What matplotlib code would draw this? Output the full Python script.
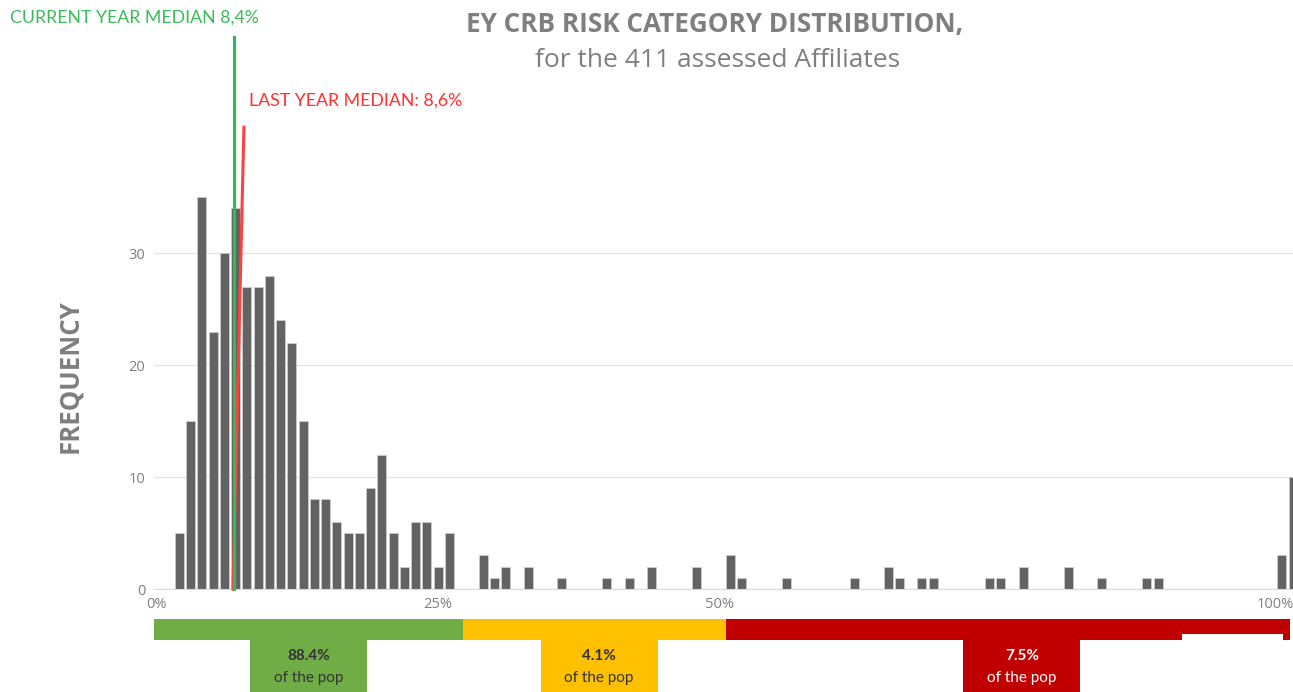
import matplotlib.pyplot as plt
from matplotlib.patches import Rectangle
from matplotlib.transforms import blended_transform_factory, ScaledTranslation

# histogram bins (percent score) and affiliate counts
bin_pct = [2, 3, 4, 5, 6, 7, 8, 9, 10, 11, 12, 13, 14, 15, 16, 17, 18, 19, 20,
           21, 22, 23, 24, 25, 26, 29, 30, 31, 33, 36, 40, 42, 44, 48, 51, 52,
           56, 62, 65, 66, 68, 69, 74, 75, 77, 81, 84, 88, 89, 100, 101]
counts = [5, 15, 35, 23, 30, 34, 27, 27, 28, 24, 22, 15, 8, 8, 6, 5, 5, 9, 12,
          5, 2, 6, 6, 2, 5, 3, 1, 2, 2, 1, 1, 1, 2, 2, 3, 1,
          1, 1, 2, 1, 1, 1, 1, 1, 2, 2, 1, 1, 1, 3, 10]

# median markers as drawn on the chart (x in bin units, y in counts)
current_median_x = [6.85, 6.85]
current_median_y = [0, 49.3]
last_median_x = [6.76, 7.73]
last_median_y = [0, 41.25]

# risk category bands
band_edges = [-0.3, 27.2, 50.6, 100.7]
band_colors = ["#70ad47", "#ffc000", "#c00000"]
band_share = ["88.4%", "4.1%", "7.5%"]
band_label_x = [13.5, 39.3, 76.9]
band_text_colors = ["#333333", "#333333", "#ffffff"]

x_ticks = [0, 25, 50, 100]
x_tick_labels = ["0%", "25%", "50%", "100%"]
y_ticks = [0, 10, 20, 30]

GRAY = "#7f7f7f"

fig = plt.figure(figsize=(12.93, 6.92), dpi=100)
ax = fig.add_axes([0.1188, 0.1488, 1 - 0.1188, 0.631])

ax.bar(bin_pct, counts, width=0.8, color="#636363", edgecolor="#d0d0d0",
       linewidth=0.5, zorder=2)

ax.plot(current_median_x, current_median_y, color="#35b955", lw=2.2,
        clip_on=False, zorder=4)
ax.plot(last_median_x, last_median_y, color="#ff4040", lw=2.2,
        clip_on=False, zorder=3)

ax.set_xlim(-0.3, 101.0)
ax.set_ylim(0, 39)
ax.set_xticks(x_ticks)
ax.set_xticklabels(x_tick_labels)
ax.set_yticks(y_ticks)
ax.tick_params(length=0, labelsize=10.5, labelcolor=GRAY, pad=6)
for lbl in ax.get_xticklabels() + ax.get_yticklabels():
    lbl.set_fontfamily("Open Sans")
# keep the 100% label inside the picture
last_lbl = ax.get_xticklabels()[-1]
last_lbl.set_transform(last_lbl.get_transform()
                       + ScaledTranslation(-6 / 100, 0, fig.dpi_scale_trans))
ax.grid(axis="y", color="#e6e6e6", lw=1, zorder=0)
for s in ["top", "right", "left"]:
    ax.spines[s].set_visible(False)
ax.spines["bottom"].set_color("#d9d9d9")

# titles
fig.text(0.553, 0.965, "EY CRB RISK CATEGORY DISTRIBUTION,", ha="center",
         va="center", fontsize=18.8, fontweight="bold", color=GRAY,
         family="Open Sans")
fig.text(0.555, 0.912, "for the 411 assessed Affiliates", ha="center",
         va="center", fontsize=19, color=GRAY, family="Open Sans")
fig.text(0.054, 0.457, "FREQUENCY", rotation=90, ha="center", va="center",
         fontsize=18.5, fontweight="bold", color=GRAY, family="Open Sans")

fig.text(10 / 1293, 0.975, "CURRENT YEAR MEDIAN 8,4%", ha="left",
         va="center", fontsize=12.8, color="#3cba5c", family="Lato")
fig.text(249 / 1293, 0.855, "LAST YEAR MEDIAN: 8,6%", ha="left",
         va="center", fontsize=12.8, color="#ff3030", family="Lato")

# category bands below the axis
trans = blended_transform_factory(ax.transData, fig.transFigure)
band_top, band_bottom = 1 - 619 / 692, 1 - 640 / 692
box_half = 5.2
for i, col in enumerate(band_colors):
    x0, x1 = band_edges[i], band_edges[i + 1]
    ax.add_patch(Rectangle((x0, band_bottom), x1 - x0, band_top - band_bottom,
                           transform=trans, color=col, clip_on=False, lw=0))
    cx = band_label_x[i]
    ax.add_patch(Rectangle((cx - box_half, 0), 2 * box_half, band_bottom,
                           transform=trans, color=col, clip_on=False, lw=0))
    ax.text(cx, 1 - 656 / 692, band_share[i], transform=trans, ha="center",
            va="center", fontsize=11, fontweight="bold",
            color=band_text_colors[i], family="Lato")
    ax.text(cx, 1 - 678 / 692, "of the pop", transform=trans, ha="center",
            va="center", fontsize=11, color=band_text_colors[i],
            family="Lato")

# small white notch at the lower right of the red band
ax.add_patch(Rectangle((91.1, band_bottom), 9.0, 6 / 692, transform=trans,
                       color="white", clip_on=False, lw=0))

fig.savefig("out.png", dpi=100)
